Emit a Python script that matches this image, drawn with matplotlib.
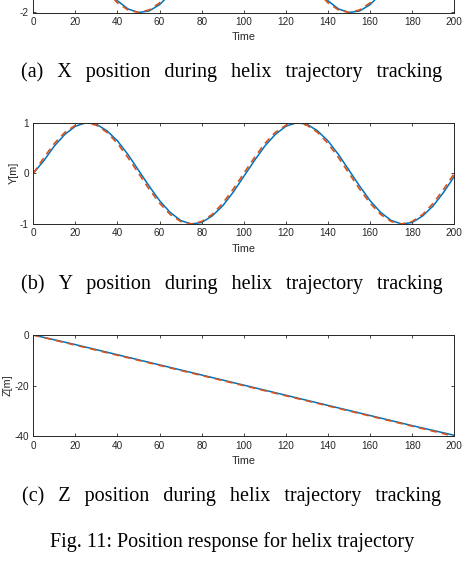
import numpy as np
import matplotlib
matplotlib.use("Agg")
import matplotlib.pyplot as plt

# time samples (s) for the helix runs
time = np.arange(0, 205, 5)
time_z = np.arange(0, 220, 20)

# X position: reference (dashed) and tracked (solid)
x_ref = [2.00, 1.90, 1.62, 1.18, 0.62, 0.00, -0.62, -1.18, -1.62, -1.90, -2.00,
         -1.90, -1.62, -1.18, -0.62, 0.00, 0.62, 1.18, 1.62, 1.90, 2.00,
         1.90, 1.62, 1.18, 0.62, 0.00, -0.62, -1.18, -1.62, -1.90, -2.00,
         -1.90, -1.62, -1.18, -0.62, 0.00, 0.62, 1.18, 1.62, 1.90, 2.00]
x_act = [2.00, 1.94, 1.69, 1.27, 0.74, 0.13, -0.50, -1.07, -1.54, -1.86, -2.00,
         -1.94, -1.69, -1.27, -0.74, -0.13, 0.50, 1.07, 1.54, 1.86, 2.00,
         1.94, 1.69, 1.27, 0.74, 0.13, -0.50, -1.07, -1.54, -1.86, -2.00,
         -1.94, -1.69, -1.27, -0.74, -0.13, 0.50, 1.07, 1.54, 1.86, 2.00]

# Y position
y_ref = [0.00, 0.31, 0.59, 0.81, 0.95, 1.00, 0.95, 0.81, 0.59, 0.31, 0.00,
         -0.31, -0.59, -0.81, -0.95, -1.00, -0.95, -0.81, -0.59, -0.31, 0.00,
         0.31, 0.59, 0.81, 0.95, 1.00, 0.95, 0.81, 0.59, 0.31, 0.00,
         -0.31, -0.59, -0.81, -0.95, -1.00, -0.95, -0.81, -0.59, -0.31, 0.00]
y_act = [0.00, 0.25, 0.54, 0.77, 0.93, 1.00, 0.97, 0.84, 0.64, 0.37, 0.06,
         -0.25, -0.54, -0.77, -0.93, -1.00, -0.97, -0.84, -0.64, -0.37, -0.06,
         0.25, 0.54, 0.77, 0.93, 1.00, 0.97, 0.84, 0.64, 0.37, 0.06,
         -0.25, -0.54, -0.77, -0.93, -1.00, -0.97, -0.84, -0.64, -0.37, -0.06]

# Z position
z_ref = [0, -4, -8, -12, -16, -20, -24, -28, -32, -36, -40]
z_act = [0, -3.8, -7.8, -11.8, -15.8, -19.8, -23.8, -27.8, -31.8, -35.8, -39.6]

# the X panel is cropped at the top of the page: only its -2 tick shows
panels = [
    (None, x_ref, x_act, time, (-2, 2), [-2],
     "(a)  \u2009X  \u2009position  \u2009during  \u2009helix  \u2009trajectory  \u2009tracking"),
    ("Y[m]", y_ref, y_act, time, (-1, 1), [-1, 0, 1],
     "(b)  \u2009Y  \u2009position  \u2009during  \u2009helix  \u2009trajectory  \u2009tracking"),
    ("Z[m]", z_ref, z_act, time_z, (-40, 0), [-40, -20, 0],
     "(c)  \u2009Z  \u2009position  \u2009during  \u2009helix  \u2009trajectory  \u2009tracking"),
]

W, H = 464, 562
plt.rcParams['font.family'] = ['Liberation Sans', 'DejaVu Sans']
plt.rcParams['axes.unicode_minus'] = False
fig = plt.figure(figsize=(W / 100, H / 100), dpi=100)

gray = '#262626'
blue = '#0072BD'
orange = '#D95319'
serif = ['Liberation Serif', 'DejaVu Serif']

# axes bottom edges in pixels, from the top of the page
bottoms = [12.5, 224.0, 436.3]
cap_base = [77.3, 289.0, 501.5]
ax_h = 101.3

for (lab, ref, act, t, ylim, yt, cap), b, cb in zip(panels, bottoms, cap_base):
    ax = fig.add_axes([33.3 / W, 1 - b / H, 421 / W, ax_h / H])
    ax.plot(t, act, color=blue, lw=1.1)
    ax.plot(t, ref, color=orange, lw=1.2, ls=(0, (4, 3)))
    ax.set_xlim(0, 200)
    ax.set_ylim(*ylim)
    ax.set_xticks(range(0, 201, 20))
    ax.set_yticks(yt)
    ax.tick_params(direction='in', length=2.5, width=0.6, colors=gray,
                   labelsize=7.2, pad=3.2, top=True, right=True)
    for s in ax.spines.values():
        s.set_color(gray)
        s.set_linewidth(0.7)
    ax.set_xlabel("Time", fontsize=7.8, color=gray, labelpad=4)
    if lab:
        ax.set_ylabel(lab, fontsize=7.8, color=gray, labelpad=1)
    fig.text(0.5, 1 - cb / H, cap, family=serif, fontsize=14.5,
             ha='center', va='baseline')

fig.text(0.5, 1 - 546.7 / H, "Fig. 11: Position response for helix trajectory",
         family=serif, fontsize=14.5, ha='center', va='baseline')

fig.savefig("out.png", dpi=100)
